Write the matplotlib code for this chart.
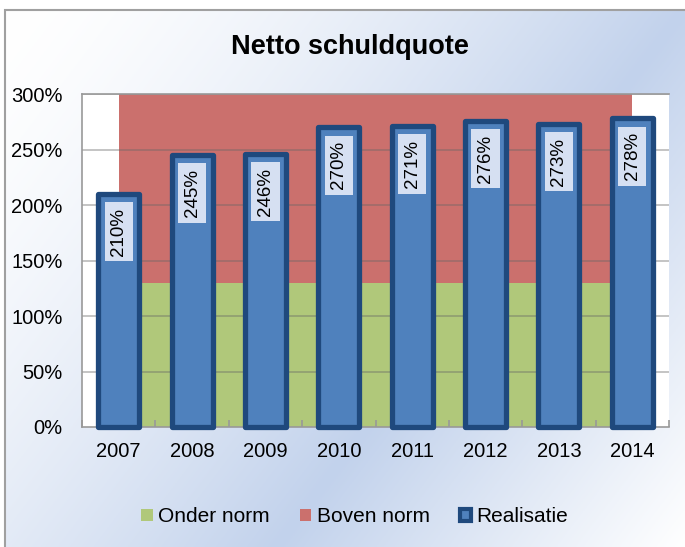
import matplotlib.pyplot as plt
import numpy as np
from matplotlib.patches import Patch, Rectangle

plt.rcParams['font.family'] = ['Liberation Sans', 'DejaVu Sans']

# data
jaren = ["2007", "2008", "2009", "2010", "2011", "2012", "2013", "2014"]
onder_norm = [130, 130, 130, 130, 130, 130, 130, 130]
boven_norm = [170, 170, 170, 170, 170, 170, 170, 170]
realisatie = [210, 245, 246, 270, 271, 276, 273, 278]
y_ticks = [0, 50, 100, 150, 200, 250, 300]

GREEN = '#b0c87a'
RED = '#cb706d'
BAR = '#4f81bd'
BAR_EDGE = '#1f497d'

W, H = 685, 547
fig = plt.figure(figsize=(W / 100, H / 100), dpi=100)

# gradient background inside the outer frame
bg = fig.add_axes([5 / W, 0, 1 - 5 / W, 1 - 10 / H], zorder=-2)
gx, gy = np.meshgrid(np.linspace(0, 1, 300), np.linspace(0, 1, 300))
u = gx + 0.6 * gy
w = np.where(u < 1, u ** 1.5, 1 - (u - 1) / 0.6)
w = np.clip(w, 0, 1)[..., None]
white = np.array([1.0, 1.0, 1.0])
blue = np.array([0xc2, 0xd2, 0xec]) / 255
bg.imshow(white + (blue - white) * w, aspect='auto', extent=[0, 1, 1, 0])
bg.axis('off')
fig.patches.append(Rectangle((5 / W, -0.01), 1.0, 1 - 10 / H + 0.01,
                             transform=fig.transFigure, fill=False,
                             edgecolor='#a0a0a0', lw=1.5))

ax = fig.add_axes([82 / W, 1 - 427 / H, (669 - 82) / W, (427 - 94) / H])
ax.set_facecolor('white')

x = np.arange(len(jaren))
ax.fill_between(x, 0, onder_norm, color=GREEN, lw=0, zorder=1)
ax.fill_between(x, onder_norm, np.array(onder_norm) + np.array(boven_norm),
                color=RED, lw=0, zorder=1)

for yt in y_ticks[1:]:
    ax.axhline(yt, color='#666666', alpha=0.45, lw=1.2, zorder=2)

bars = ax.bar(x, realisatie, width=0.56, color=BAR, edgecolor=BAR_EDGE,
              linewidth=3.8, zorder=3, clip_on=False)
for b in bars:
    b.set_joinstyle('round')

for xi, v in zip(x, realisatie):
    ax.annotate(f"{v}%", (xi, v), xytext=(0, -10), textcoords='offset points',
                rotation=90, ha='center', va='top', fontsize=13.5, zorder=4,
                bbox=dict(boxstyle='square,pad=0.3', fc='#d6e0f2', ec='none'))

ax.set_xlim(-0.5, len(jaren) - 0.5)
ax.set_ylim(0, 300)
ax.set_yticks(y_ticks)
ax.set_yticklabels([f"{t}%" for t in y_ticks], fontsize=14.5)
ax.tick_params(axis='y', length=0, pad=14)
ax.set_xticks(x)
ax.set_xticklabels(jaren, fontsize=14.5)
ax.tick_params(axis='x', which='major', length=0, pad=11)
ax.set_xticks(np.arange(-0.5, len(jaren)), minor=True)
ax.tick_params(axis='x', which='minor', direction='in', length=5,
               color='#999999', width=1.2)

ax.spines['right'].set_visible(False)
for s in ['left', 'bottom', 'top']:
    ax.spines[s].set_color('#999999')
    ax.spines[s].set_linewidth(1.2)

fig.text(0.511, 1 - 47 / H, "Netto schuldquote", ha='center', va='center',
         fontsize=19.5, fontweight='bold')

handles = [Patch(facecolor=GREEN, edgecolor='none', label='Onder norm'),
           Patch(facecolor=RED, edgecolor='none', label='Boven norm'),
           Patch(facecolor=BAR, edgecolor=BAR_EDGE, lw=3, label='Realisatie')]
fig.legend(handles=handles, loc='center', bbox_to_anchor=(0.518, 1 - 517 / H),
           ncol=3, frameon=False, fontsize=15, handlelength=0.55,
           handleheight=0.55, handletextpad=0.25, columnspacing=1.45)

fig.savefig('out.png', dpi=100)
